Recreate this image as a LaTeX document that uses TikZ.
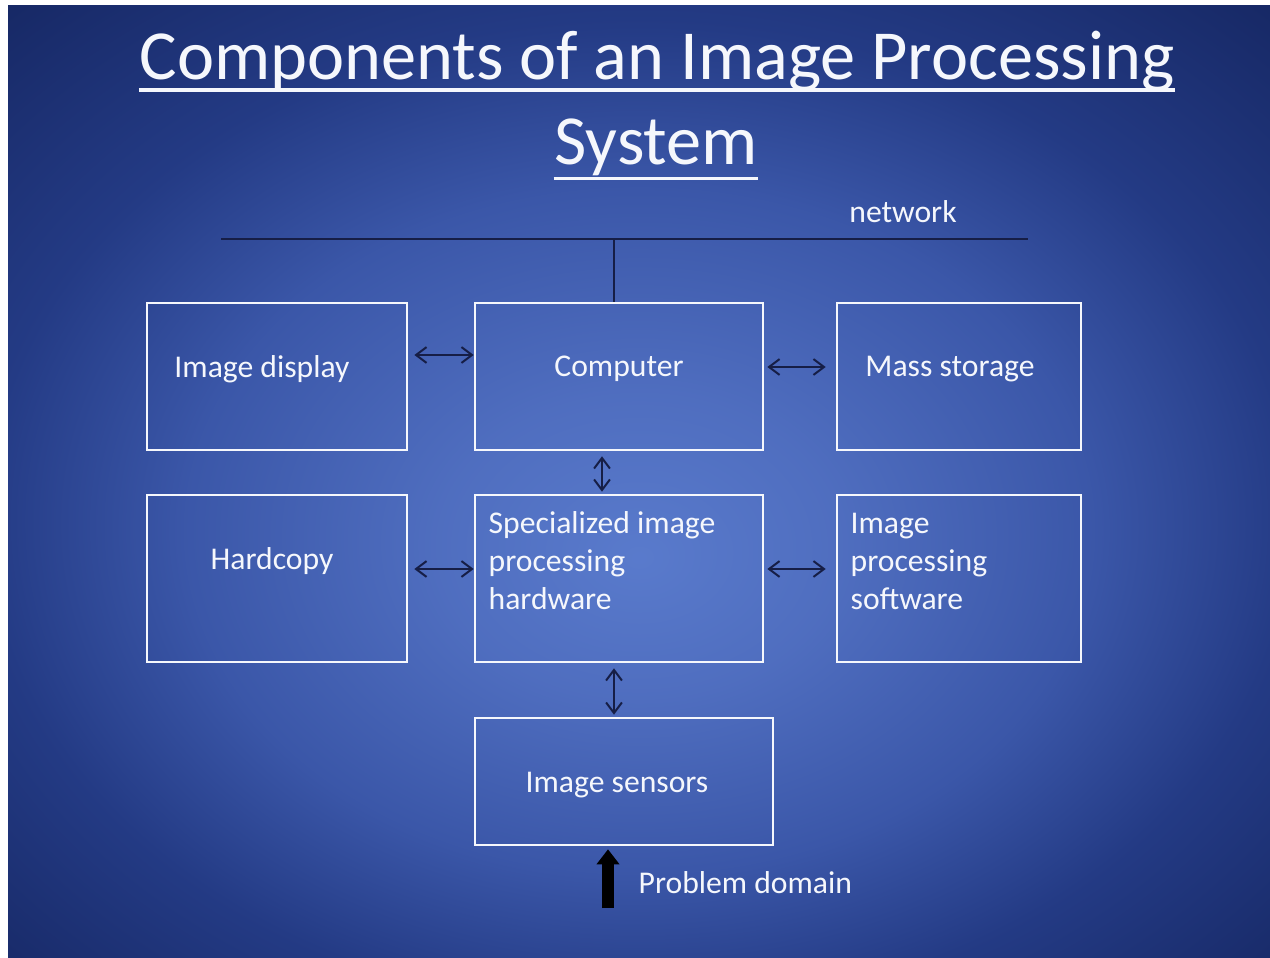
\documentclass[tikz,border=0pt]{standalone}
\usepackage{fontspec}
\setmainfont{Carlito}
\usetikzlibrary{arrows.meta}
\definecolor{navy}{RGB}{22,30,70}
\definecolor{slidetext}{RGB}{245,247,252}
\pgfdeclareradialshading{slide}{\pgfpoint{0bp}{-4bp}}{%
  rgb(0bp)=(0.35,0.48,0.80);rgb(8bp)=(0.31,0.43,0.75);rgb(18bp)=(0.23,0.34,0.66);
  rgb(26bp)=(0.14,0.23,0.52);rgb(36bp)=(0.09,0.16,0.40);rgb(50bp)=(0.09,0.16,0.40)}

\begin{document}
\begin{tikzpicture}[x=0.01cm, y=-0.01cm,
  box/.style={draw=slidetext, line width=0.025cm, inner sep=0pt},
  lbl/.style={text=slidetext, inner sep=0pt, font=\fontsize{9}{10.8}\selectfont},
  link/.style={{Straight Barb[length=3pt,width=4.5pt]}-{Straight Barb[length=3pt,width=4.5pt]}, draw=navy, line width=0.02cm}]
\useasboundingbox (0,0) rectangle (1270,958);
\fill[white] (0,0) rectangle (1270,958);
\shade[shading=slide] (8,6) rectangle (1270,958);

% title
\node[lbl, anchor=base, font=\fontsize{20}{24}\selectfont] (title1) at (657,80) {Components of an Image Processing};
\node[lbl, anchor=base, font=\fontsize{20}{24}\selectfont] (title2) at (656,165) {System};
\draw[slidetext, line width=0.03cm] ([yshift=-0.1cm]title1.base west) -- ([yshift=-0.1cm]title1.base east);
\draw[slidetext, line width=0.03cm] ([yshift=-0.13cm]title2.base west) -- ([yshift=-0.13cm]title2.base east);

% network
\node[lbl] (net) at (903,212) {network};
\coordinate (netL) at (221,239);
\coordinate (netR) at (1028,239);
\draw[navy, line width=0.02cm] (netL) -- (netR);

% boxes
\node[box, minimum width=2.6cm, minimum height=1.47cm] (disp) at (277,376.5) {};
\node[box, minimum width=2.88cm, minimum height=1.47cm] (comp) at (619,376.5) {};
\node[box, minimum width=2.44cm, minimum height=1.47cm] (mass) at (959,376.5) {};
\node[box, minimum width=2.6cm, minimum height=1.67cm] (hard) at (277,578.5) {};
\node[box, minimum width=2.88cm, minimum height=1.67cm] (spec) at (619,578.5) {};
\node[box, minimum width=2.44cm, minimum height=1.67cm] (soft) at (959,578.5) {};
\node[box, minimum width=2.98cm, minimum height=1.27cm] (sens) at (624,781.5) {};

\node[lbl] at (262,369) {Image display};
\node[lbl] at (619,369) {Computer};
\node[lbl] at (950,369) {Mass storage};
\node[lbl] at (272,561) {Hardcopy};
\node[lbl, anchor=west, align=left] at (488,561) {Specialized image\\processing\\hardware};
\node[lbl, anchor=west, align=left] at (850,561) {Image\\processing\\software};
\node[lbl] at (617,785) {Image sensors};

% connections
\draw[navy, line width=0.02cm] (comp.north -| 614,0) -- (netL -| 614,0);
\draw[link, shorten <=0.06cm] (disp.east |- 0,355) -- (comp.west |- 0,355);
\draw[link, shorten <=0.03cm, shorten >=0.1cm] (comp.east |- 0,367) -- (mass.west |- 0,367);
\draw[link, shorten <=0.05cm, shorten >=0.02cm] (comp.south -| 602,0) -- (spec.north -| 602,0);
\draw[link, shorten <=0.06cm] (hard.east |- 0,569) -- (spec.west |- 0,569);
\draw[link, shorten <=0.03cm, shorten >=0.1cm] (spec.east |- 0,569) -- (soft.west |- 0,569);
\draw[link, shorten <=0.05cm, shorten >=0.02cm] (spec.south -| 614,0) -- (sens.north -| 614,0);

% problem domain
\coordinate (pd) at (608,908);
\draw[black, line width=0.12cm, -{Triangle[length=0.15cm,width=0.22cm]}] (pd) -- ([yshift=-0.03cm]sens.south -| pd);
\node[lbl, anchor=west] at (638,883) {Problem domain};
\end{tikzpicture}
\end{document}
